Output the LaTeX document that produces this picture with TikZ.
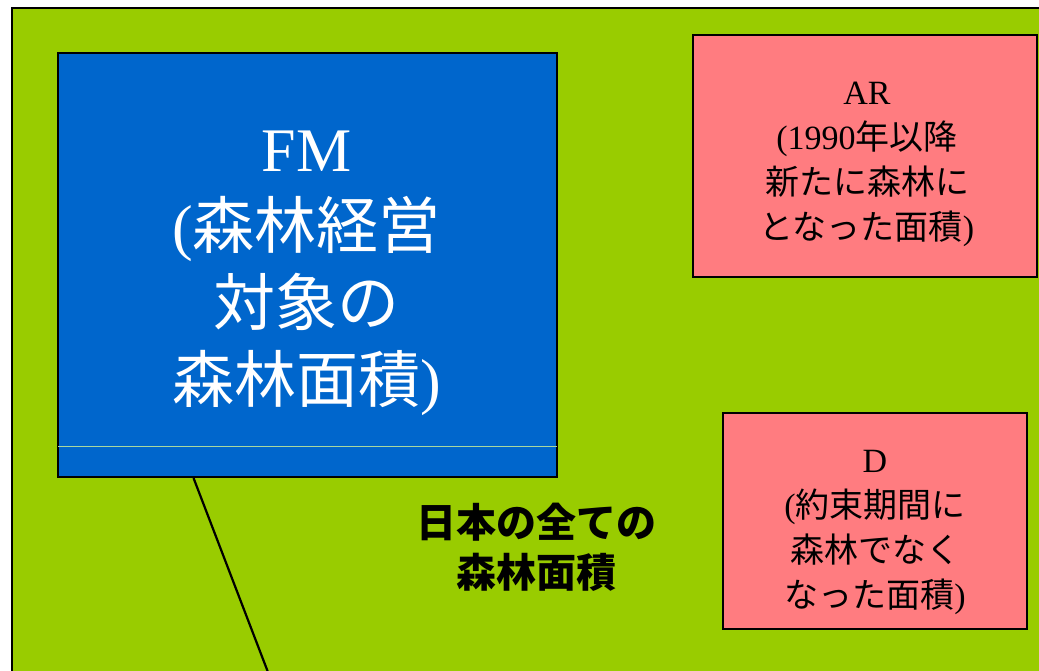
\documentclass[tikz,border=0pt]{standalone}
\usepackage{fontspec}
\setmainfont{Liberation Serif}
\newfontfamily\jp{Noto Sans CJK JP}
\usetikzlibrary{calc}
\definecolor{bg}{HTML}{99CC00}
\definecolor{fmblue}{HTML}{0066CC}
\definecolor{pinkbox}{HTML}{FF7C80}
\definecolor{seam}{HTML}{A8D8A0}
\begin{document}
\begin{tikzpicture}[x=1pt,y=-1pt,
  box/.style={draw=black,line width=2pt,inner sep=0pt,anchor=center},
  fmtext/.style={font=\jp\fontsize{62}{77}\selectfont,text=white,align=center,inner sep=0pt},
  pinktext/.style={font=\jp\fontsize{34}{45}\selectfont,text=black,align=center,inner sep=0pt},
  midtext/.style={font=\jp\bfseries\fontsize{40}{50}\selectfont,text=black,align=center,inner sep=0pt}]
\useasboundingbox (0,0) rectangle (1039,670);
\clip (0,0) rectangle (1039,670);
\fill[white] (0,0) rectangle (1039,670);
% outer green area
\node[box,fill=bg,minimum width=1060,minimum height=700] (all) at (542,358) {};
% FM box
\node[box,fill=fmblue,minimum width=499,minimum height=424] (fm) at (307.5,265) {};
\node[fmtext] (fmlabel) at ($(fm.center)+(-1,8)$)
  {{\rmfamily FM}\\{\rmfamily(}森林経営\\対象の\\森林面積{\rmfamily)}};
\draw[seam,line width=0.8pt] ($(fm.south west)+(1,-32)$) -- ($(fm.south east)+(-1,-32)$);
% AR box
\node[box,fill=pinkbox,minimum width=344,minimum height=242] (ar) at (865,156) {};
\node[pinktext] (arlabel) at ($(ar.center)+(2,8)$)
  {{\rmfamily AR}\\{\rmfamily(1990}年以降\\新たに森林に\\となった面積{\rmfamily)}};
% D box
\node[box,fill=pinkbox,minimum width=304,minimum height=216] (d) at (875,521) {};
\node[pinktext] (dlabel) at ($(d.center)+(0,11)$)
  {{\rmfamily D}\\{\rmfamily(}約束期間に\\森林でなく\\なった面積{\rmfamily)}};
% centre label
\node[midtext] (jall) at (536,547) {日本の全ての\\森林面積};
% connector
\coordinate (lend) at (271,680);
\draw[black,line width=2.2pt] ($(fm.south west)!0.2725!(fm.south east)$) -- (lend);
\end{tikzpicture}
\end{document}
